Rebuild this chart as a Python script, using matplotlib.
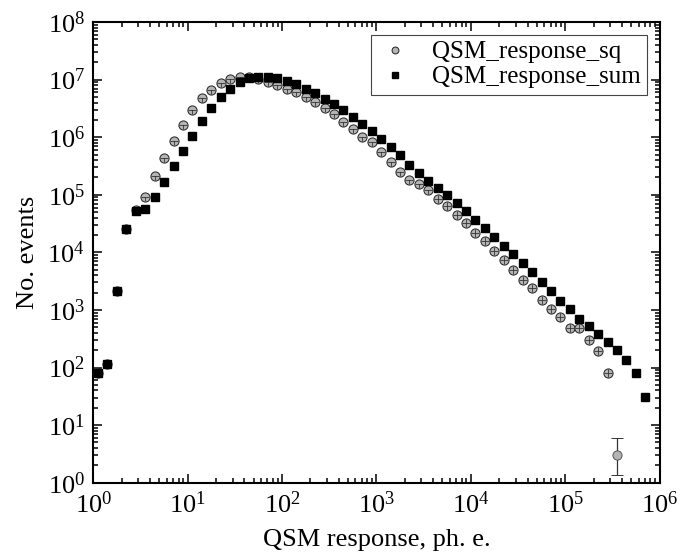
import matplotlib
matplotlib.use("Agg")
import matplotlib.pyplot as plt
from matplotlib.path import Path
from matplotlib.ticker import FixedLocator, NullFormatter
import numpy as np

plt.rcParams['font.family'] = ['Liberation Serif', 'DejaVu Serif']
plt.rcParams['mathtext.fontset'] = 'custom'
plt.rcParams['mathtext.rm'] = 'Liberation Serif'
plt.rcParams['mathtext.it'] = 'Liberation Serif:italic'

# bin centres, ph. e. (0.1-decade log bins)
response = [1.12, 1.41, 1.78, 2.24, 2.82, 3.55, 4.47, 5.62, 7.08, 8.91,
            11.2, 14.1, 17.8, 22.4, 28.2, 35.5, 44.7, 56.2, 70.8, 89.1,
            112, 141, 178, 224, 282, 355, 447, 562, 708, 891,
            1122, 1413, 1778, 2239, 2818, 3548, 4467, 5623, 7079, 8913,
            11220, 14125, 17783, 22387, 28184, 35481, 44668, 56234, 70795, 89125,
            112202, 141254, 177828, 223872, 281838, 354813, 446684, 562341, 707946]

# QSM_response_sq histogram (last bin has a single point with error bar)
counts_sq = [79, 117, 2140, 25100, 55000, 93300, 209000, 427000, 867000, 1.63e6,
             2.91e6, 4.81e6, 6.58e6, 8.67e6, 1.01e7, 1.10e7, 1.09e7, 1.02e7, 9.12e6, 8.04e6,
             6.92e6, 6.03e6, 5.01e6, 4.12e6, 3.24e6, 2.49e6, 1.86e6, 1.38e6, 1.02e6, 8.32e5,
             5.58e5, 3.76e5, 2.51e5, 1.80e5, 1.51e5, 1.19e5, 8.61e4, 6.31e4, 4.47e4, 3.18e4,
             2.19e4, 1.55e4, 1.06e4, 7350, 5010, 3300, 2370, 1510, 1050, 741,
             491, 491, 300, 195, 79, 3]
sq_err_low = 1.64
sq_err_high = 2.9

# QSM_response_sum histogram
counts_sum = [79, 117, 2140, 25100, 51300, 57500, 92300, 170000, 316000, 575000,
              1.05e6, 1.91e6, 3.20e6, 4.90e6, 7.00e6, 9.12e6, 1.05e7, 1.11e7, 1.11e7, 1.05e7,
              9.33e6, 8.22e6, 7.00e6, 5.82e6, 4.68e6, 3.76e6, 2.92e6, 2.24e6, 1.68e6, 1.26e6,
              9.33e5, 6.81e5, 4.84e5, 3.31e5, 2.35e5, 1.74e5, 1.29e5, 98900, 71600, 51300,
              36600, 26100, 18300, 12900, 9460, 6520, 4550, 3050, 2160, 1410,
              1020, 708, 518, 382, 281, 200, 133, 79, 31]

x_sq = np.array(response[:len(counts_sq)])
y_sq = np.array(counts_sq, dtype=float)
x_sum = np.array(response[:len(counts_sum)])
y_sum = np.array(counts_sum, dtype=float)

# small error-bar glyphs drawn over the grey circles
tee = Path([(-1, 0), (1, 0), (0, 0), (0, -1)],
           [Path.MOVETO, Path.LINETO, Path.MOVETO, Path.LINETO])
n_main = len(counts_sq) - 1
split = 36

fig = plt.figure(figsize=(6.9, 5.6), dpi=100)
ax = fig.add_axes([0.1352, 0.138, 0.8206, 0.8227])

ax.plot(x_sq[:n_main], y_sq[:n_main], 'o', ms=6.6, mfc='#b4b4b4', mec='#222222',
        mew=0.7, zorder=3, label='QSM_response_sq')
ax.plot(x_sq[:split], y_sq[:split], ls='none', marker=tee, ms=6.4,
        mec='#333333', mew=0.6, zorder=3.5)
ax.plot(x_sq[split:n_main], y_sq[split:n_main], ls='none', marker='+', ms=6.4,
        mec='#333333', mew=0.6, zorder=3.5)
ax.errorbar(x_sq[n_main:], y_sq[n_main:], yerr=[[sq_err_low], [sq_err_high]],
            fmt='o', ms=6.6, mfc='#b4b4b4', mec='#555555', mew=0.7,
            ecolor='#333333', elinewidth=0.9, capsize=4.5, capthick=0.9, zorder=3)
ax.plot(x_sum, y_sum, 's', ms=6.0, mfc='black', mec='black', zorder=4,
        label='QSM_response_sum')

ax.set_xscale('log')
ax.set_yscale('log')

# decade ticks only inside the visible range
x_dec = [0, 1, 2, 3, 4, 5, 6]
y_dec = [0, 1, 2, 3, 4, 5, 6, 7, 8]
for a, decs in ((ax.xaxis, x_dec), (ax.yaxis, y_dec)):
    a.set_major_locator(FixedLocator([10.0 ** d for d in decs]))
    a.set_minor_locator(FixedLocator([m * 10.0 ** d for d in decs[:-1] for m in range(2, 10)]))
    a.set_minor_formatter(NullFormatter())

ax.set_xlim(1, 1e6)
ax.set_ylim(1, 1e8)

ax.tick_params(which='both', direction='in', top=True, right=True, width=1.1,
               labelsize=19, pad=6)
ax.tick_params(which='major', length=6.3)
ax.tick_params(which='minor', length=3.6)
for s in ax.spines.values():
    s.set_linewidth(1.5)

ax.set_xlabel('QSM response, ph. e.', fontsize=19, labelpad=8)
ax.set_ylabel('No. events', fontsize=19, labelpad=6)

leg = ax.legend(loc='upper right', fontsize=18, markerscale=0.75, frameon=True,
                fancybox=False, edgecolor='#444444', framealpha=1,
                handletextpad=0.8, borderpad=0.25, labelspacing=0.1,
                handlelength=1.4, borderaxespad=0.5)
leg.get_frame().set_linewidth(0.8)

fig.savefig('out.png', dpi=100)
